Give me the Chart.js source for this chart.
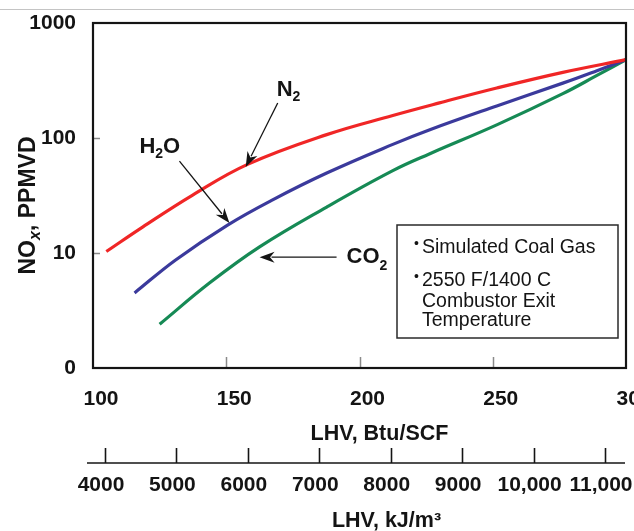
<!DOCTYPE html>
<html>
<head>
<meta charset="utf-8">
<script src="https://cdn.jsdelivr.net/npm/chart.js@4/dist/chart.umd.min.js"></script>
<style>
  html, body { margin: 0; padding: 0; background: #fff; }
  #wrap { width: 634px; height: 531px; }
</style>
</head>
<body>
<div id="wrap"><canvas id="c" width="634" height="531"></canvas></div>
<script>
// NOx emissions vs. fuel heating value for three diluents (simulated coal gas)
const n2Btu  = [105, 118.6, 137.4, 158, 187.7, 212.5, 230, 251.5, 276.3, 300];
const n2Nox  = [10.3, 16.8, 31.9, 59, 107, 157, 202, 272, 372, 480];

const h2oBtu = [115.6, 131, 150.5, 167.4, 187.7, 212.5, 226.4, 251.5, 276.3, 289.1, 300];
const h2oNox = [4.5, 8.7, 17.5, 29, 49.6, 88, 118, 190, 300, 385, 480];

const co2Btu = [125, 143.8, 162.5, 187.7, 212.5, 226.4, 251.5, 276.3, 289.1, 300];
const co2Nox = [2.4, 5.5, 11.3, 25.1, 52, 73, 130, 243, 350, 480];

const yTicks = [1, 10, 100, 1000];
const kjTicks = [4000, 5000, 6000, 7000, 8000, 9000, 10000, 11000];
const btuRange = [100, 300];
const kjRange = [3832, 11294];

const noteLines = [
  ['•', 'Simulated Coal Gas'],
  ['•', '2550 F/1400 C'],
  ['', 'Combustor Exit'],
  ['', 'Temperature']
];

const SANS = "'Liberation Sans', Arial, sans-serif";
const INK = '#141414';

const pts = (xs, ys) => xs.map((x, i) => ({ x: x, y: ys[i] }));

// draws text made of [string, font, baselineShift] runs, left to right
function runs(ctx, parts, x, y) {
  let cx = x;
  for (const [txt, font, dy] of parts) {
    ctx.font = font;
    ctx.fillText(txt, cx, y + dy);
    cx += ctx.measureText(txt).width;
  }
  return cx - x;
}
function runsWidth(ctx, parts) {
  let w = 0;
  for (const [txt, font] of parts) { ctx.font = font; w += ctx.measureText(txt).width; }
  return w;
}

function arrow(ctx, x0, y0, x1, y1) {
  const ang = Math.atan2(y1 - y0, x1 - x0);
  const len = 15, half = 5.5;
  const c = Math.cos(ang), s = Math.sin(ang);
  ctx.beginPath();
  ctx.moveTo(x0, y0);
  ctx.lineTo(x1 - c * len * 0.8, y1 - s * len * 0.8);
  ctx.lineWidth = 1.3;
  ctx.strokeStyle = INK;
  ctx.stroke();
  ctx.beginPath();
  ctx.moveTo(x1, y1);
  ctx.lineTo(x1 - c * len + s * half, y1 - s * len - c * half);
  ctx.lineTo(x1 - c * len * 0.7, y1 - s * len * 0.7);
  ctx.lineTo(x1 - c * len - s * half, y1 - s * len + c * half);
  ctx.closePath();
  ctx.fillStyle = INK;
  ctx.fill();
}

const overlay = {
  id: 'overlay',
  beforeDraw(chart) {
    const ctx = chart.ctx;
    ctx.save();
    ctx.fillStyle = '#fff';
    ctx.fillRect(0, 0, chart.width, chart.height);
    ctx.strokeStyle = '#c4c4c4';
    ctx.lineWidth = 1;
    ctx.beginPath();
    ctx.moveTo(0, 9.5);
    ctx.lineTo(chart.width, 9.5);
    ctx.stroke();
    ctx.restore();
  },
  afterDraw(chart) {
    const ctx = chart.ctx;
    const a = chart.chartArea;
    const sx = chart.scales.x, sy = chart.scales.y, s2 = chart.scales.x2;
    ctx.save();

    // short inward tick marks
    ctx.strokeStyle = '#8a8a8a';
    ctx.lineWidth = 1.5;
    for (const t of sx.ticks) {
      if (t.value <= btuRange[0] || t.value >= btuRange[1]) continue;
      const px = Math.round(sx.getPixelForValue(t.value)) + 0.5;
      ctx.beginPath(); ctx.moveTo(px, a.bottom); ctx.lineTo(px, a.bottom - 11); ctx.stroke();
    }
    for (const t of sy.ticks) {
      if (t.value <= yTicks[0] || t.value >= yTicks[yTicks.length - 1]) continue;
      const py = Math.round(sy.getPixelForValue(t.value)) + 0.5;
      ctx.beginPath(); ctx.moveTo(a.left, py); ctx.lineTo(a.left + 7, py); ctx.stroke();
    }

    // plot frame
    ctx.strokeStyle = INK;
    ctx.lineWidth = 2.2;
    ctx.strokeRect(a.left, a.top, a.right - a.left, a.bottom - a.top);

    // secondary (kJ/m3) axis line with upward ticks
    const axY = s2.top + 15;
    ctx.lineWidth = 1.6;
    ctx.beginPath(); ctx.moveTo(a.left - 6, axY); ctx.lineTo(a.right - 1, axY); ctx.stroke();
    for (const t of s2.ticks) {
      const px = Math.round(s2.getPixelForValue(t.value)) + 0.5;
      ctx.beginPath(); ctx.moveTo(px, axY); ctx.lineTo(px, axY - 15); ctx.stroke();
    }

    ctx.fillStyle = INK;
    ctx.textAlign = 'left';
    ctx.textBaseline = 'alphabetic';

    // axis titles
    ctx.font = 'bold 21.5px ' + SANS;
    ctx.textAlign = 'center';
    const mid = (a.left + a.right) / 2;
    ctx.fillText('LHV, Btu/SCF', mid + 20, sx.top + 72);
    ctx.fillText('LHV, kJ/m³', mid + 27, s2.top + 79);
    ctx.textAlign = 'left';

    // rotated y title with subscript x
    const yParts = [
      ['NO', 'bold 23px ' + SANS, 0],
      ['x', 'italic bold 16px ' + SANS, 5],
      [', PPMVD', 'bold 23px ' + SANS, 0]
    ];
    ctx.save();
    ctx.translate(35, (a.top + a.bottom) / 2 + 10);
    ctx.rotate(-Math.PI / 2);
    runs(ctx, yParts, -runsWidth(ctx, yParts) / 2, 0);
    ctx.restore();

    // curve labels with arrows
    const big = 'bold 22px ' + SANS, small = 'bold 14px ' + SANS;
    const n2Tip = [sx.getPixelForValue(157.3), sy.getPixelForValue(56)];
    arrow(ctx, n2Tip[0] + 32, n2Tip[1] - 64, n2Tip[0], n2Tip[1]);
    runs(ctx, [['N', big, 0], ['2', small, 5]], n2Tip[0] + 31, n2Tip[1] - 71);

    const h2oTip = [sx.getPixelForValue(151.2), sy.getPixelForValue(18.2)];
    arrow(ctx, h2oTip[0] - 50, h2oTip[1] - 62, h2oTip[0], h2oTip[1]);
    runs(ctx, [['H', big, 0], ['2', small, 5], ['O', big, 0]], h2oTip[0] - 90, h2oTip[1] - 70);

    const co2Tip = [sx.getPixelForValue(162.5), sy.getPixelForValue(9.2)];
    arrow(ctx, co2Tip[0] + 77, co2Tip[1], co2Tip[0], co2Tip[1]);
    runs(ctx, [['CO', big, 0], ['2', small, 7]], co2Tip[0] + 87, co2Tip[1] + 6);

    // conditions box
    const bx = a.right - 229, by = a.top + 202, bw = 221, bh = 113;
    ctx.fillStyle = '#fff';
    ctx.fillRect(bx, by, bw, bh);
    ctx.strokeStyle = '#2a2a2a';
    ctx.lineWidth = 1.5;
    ctx.strokeRect(bx, by, bw, bh);
    ctx.fillStyle = INK;
    const baselines = [28, 61, 82, 101];
    noteLines.forEach(([bullet, txt], i) => {
      const yb = by + baselines[i];
      if (bullet) {
        ctx.font = '14px ' + SANS;
        ctx.fillText(bullet, bx + 17, yb - 5);
      }
      ctx.font = '19.5px ' + SANS;
      ctx.fillText(txt, bx + 25, yb);
    });

    ctx.restore();
  }
};

const tickFont = { family: SANS, size: 21, weight: 'bold' };
const zeroPad = s => { s.paddingLeft = 0; s.paddingRight = 0; s.paddingTop = 0; s.paddingBottom = 0; };

new Chart(document.getElementById('c'), {
  type: 'line',
  data: {
    datasets: [
      { label: 'N2',  data: pts(n2Btu, n2Nox),   borderColor: '#f02626' },
      { label: 'H2O', data: pts(h2oBtu, h2oNox), borderColor: '#3b3a9c' },
      { label: 'CO2', data: pts(co2Btu, co2Nox), borderColor: '#168a55' }
    ]
  },
  options: {
    responsive: false,
    animation: false,
    devicePixelRatio: 1,
    layout: { padding: { top: 23, right: 8, left: 0, bottom: 0 } },
    elements: {
      line: { borderWidth: 3.2, tension: 0.4, fill: false },
      point: { radius: 0 }
    },
    plugins: { legend: { display: false }, tooltip: { enabled: false } },
    scales: {
      x: {
        type: 'linear', position: 'bottom',
        min: btuRange[0], max: btuRange[1],
        grid: { display: false, drawTicks: false }, border: { display: false },
        ticks: { stepSize: 50, padding: 19, labelOffset: 8, autoSkip: false, maxRotation: 0, font: tickFont, color: INK },
        afterFit(s) { s.height = 80; zeroPad(s); }
      },
      x2: {
        type: 'linear', position: 'bottom',
        min: kjRange[0], max: kjRange[1],
        grid: { display: false, drawTicks: false }, border: { display: false },
        afterBuildTicks(s) { s.ticks = kjTicks.map(v => ({ value: v })); },
        ticks: {
          padding: 25, labelOffset: -4, autoSkip: false, maxRotation: 0,
          font: tickFont, color: INK,
          callback: v => v >= 10000 ? v.toLocaleString('en-US') : String(v)
        },
        afterFit(s) { s.height = 83; zeroPad(s); }
      },
      y: {
        type: 'logarithmic', position: 'left',
        min: yTicks[0], max: yTicks[yTicks.length - 1],
        grid: { display: false, drawTicks: false }, border: { display: false },
        afterBuildTicks(s) { s.ticks = yTicks.map(v => ({ value: v })); },
        ticks: { padding: 17, font: tickFont, color: INK, callback: v => v === 1 ? '0' : String(v) },
        afterFit(s) { s.width = 93; zeroPad(s); }
      }
    }
  },
  plugins: [overlay]
});
</script>
</body>
</html>
